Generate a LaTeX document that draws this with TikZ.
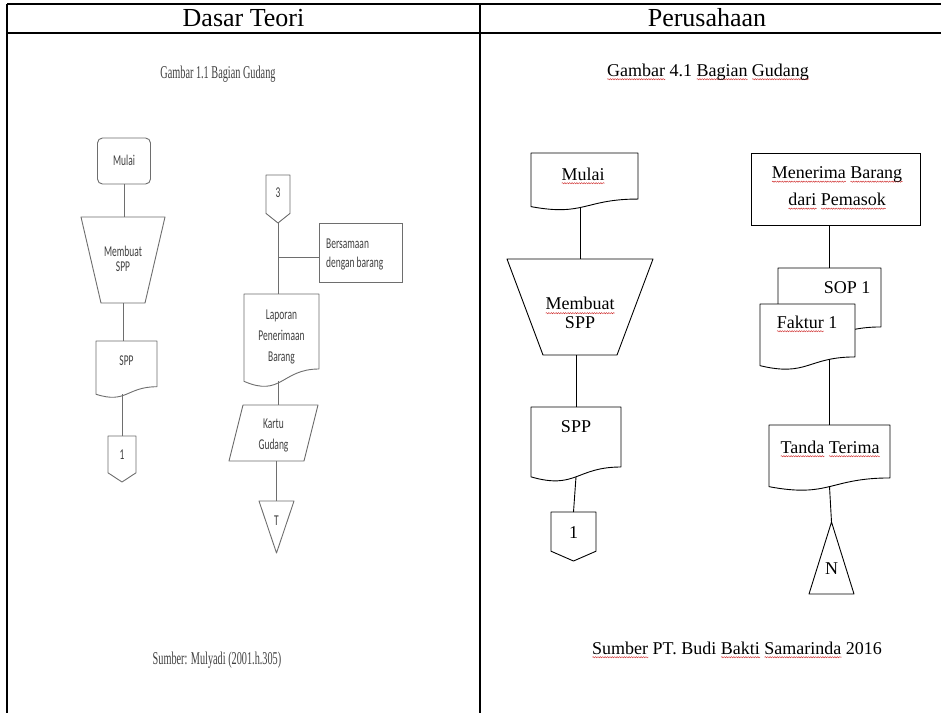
\documentclass[tikz,border=0pt]{standalone}
\usepackage{fontspec}
\setmainfont{Liberation Serif}
\newfontfamily\lsans[FakeStretch=0.63]{Carlito}
\newfontfamily\lserif[FakeStretch=0.57]{Liberation Serif}
\usetikzlibrary{calc,decorations.pathmorphing}
\definecolor{lgray}{HTML}{404040}
\definecolor{lline}{HTML}{6E6E6E}
\definecolor{sqred}{HTML}{D03030}
\newsavebox\sqbox
\newlength\sqlen
\newcommand\sq[1]{\sbox\sqbox{#1}\setlength\sqlen{\wd\sqbox}\makebox[0pt][l]{\tikz[baseline=0pt]\draw[sqred, line width=0.45pt, decorate, decoration={snake, amplitude=0.6pt, segment length=2.4pt}] (0pt,-3.2pt) -- (\sqlen,-3.2pt);}\usebox\sqbox}
% outlines drawn around named nodes
\newcommand\docout[2]{\draw[#2] (#1.north west) -- (#1.north east) -- ($(#1.north east)!0.802!(#1.south east)$) .. controls ($(#1.north)!0.802!(#1.south)$) and ($(#1.north)!1.1075!(#1.south)$) .. ($(#1.north west)!0.934!(#1.south west)$) -- cycle;
  \coordinate (#1-w) at ($(#1.north)!0.933!(#1.south)$);}
\newcommand\offout[2]{\draw[#2] (#1.north west) -- (#1.north east) -- ($(#1.north east)!0.8!(#1.south east)$) -- (#1.south) -- ($(#1.north west)!0.8!(#1.south west)$) -- cycle;}
\newcommand\trapout[3]{\draw[#2] (#1.north west) -- (#1.north east) -- ($(#1.south east)+(-#3,0)$) -- ($(#1.south west)+(#3,0)$) -- cycle;}
\newcommand\parout[3]{\draw[#2] ($(#1.north west)+(#3,0)$) -- (#1.north east) -- ($(#1.south east)+(-#3,0)$) -- (#1.south west) -- cycle;}
\newcommand\tridown[2]{\draw[#2] (#1.north west) -- (#1.north east) -- (#1.south) -- cycle;}
\newcommand\triupout[2]{\draw[#2] (#1.north) -- (#1.south east) -- (#1.south west) -- cycle;}
\tikzset{
  shp/.style={inner sep=0pt, outer sep=0pt},
  lo/.style={draw=lline, line width=0.9pt, line join=round},
  ro/.style={draw=black, line width=0.9pt, line join=round},
  lt/.style={font=\lsans\fontsize{15}{15}\selectfont, text=lgray, align=center, inner sep=0pt},
  rt/.style={font=\fontsize{18}{20}\selectfont, align=center, inner sep=0pt},
  lser/.style={font=\lserif\fontsize{18}{18}\selectfont, text=lgray, inner sep=0pt},
  ht/.style={font=\fontsize{26}{26}\selectfont, inner sep=0pt},
  tline/.style={line width=1.4pt},
  lc/.style={draw=lline, line width=0.9pt},
  rc/.style={draw=black, line width=0.9pt},
}
\begin{document}
\begin{tikzpicture}[x=1pt,y=-1pt]
\useasboundingbox (0,0) rectangle (941,713);
\fill[white] (0,0) rectangle (941,713);
% table
\draw[tline] (7,4) -- (941,4) (7,33) -- (941,33) (7,4) -- (7,713) (480,4) -- (480,713);
\node[ht] (h1) at (243.5,18) {Dasar Teori};
\node[ht] (h2) at (707,18) {Perusahaan};

% ---------------- left panel
\node[lser, anchor=base] (ltitle) at (218,78) {Gambar 1.1 Bagian Gudang};
\node[lser, anchor=base] (lcap) at (217,664) {Sumber: Mulyadi (2001.h.305)};

\node[draw=lline, line width=0.9pt, rounded corners=5pt, minimum width=53pt, minimum height=46pt, inner sep=0pt] (lmulai) at (124,161) {};
\node[lt, anchor=base] (lmulai-t) at (124,165) {Mulai};
\node[shp, minimum width=84pt, minimum height=86pt] (ltrap) at (123,260) {};
\trapout{ltrap}{lo}{20}
\node[lt] (ltrap-t) at (123,259) {Membuat\\SPP};
\node[shp, minimum width=61pt, minimum height=57pt] (lspp) at (126.5,369.5) {};
\docout{lspp}{lo}
\node[lt, anchor=base] (lspp-t) at (126.5,365) {SPP};
\node[shp, minimum width=28pt, minimum height=46pt] (lone) at (122,459) {};
\offout{lone}{lo}
\node[lt, anchor=base] (lone-t) at (122,459) {1};
\draw[lc] (lmulai.south) -- (lmulai.south |- ltrap.north);
\draw[lc] (ltrap.south) -- (ltrap.south |- lspp.north);
\draw[lc] (lone.north) -- (lone.north |- lspp-w);

\node[shp, minimum width=24pt, minimum height=48pt] (lthree) at (278,199) {};
\offout{lthree}{lo}
\node[lt, anchor=base] (lthree-t) at (278,197) {3};
\node[draw=lline, line width=0.9pt, minimum width=83pt, minimum height=59pt, inner sep=0pt] (lbers) at (360.5,252.5) {};
\node[lt, font=\lsans\fontsize{15}{19}\selectfont, align=left, anchor=west] (lbers-t) at (326,254.5) {Bersamaan\\dengan barang};
\node[shp, minimum width=75pt, minimum height=93.5pt] (llap) at (281.5,340.75) {};
\docout{llap}{lo}
\node[lt, font=\lsans\fontsize{15}{21}\selectfont] (llap-t) at (281.5,336.5) {Laporan\\Penerimaan\\Barang};
\node[shp, minimum width=89pt, minimum height=56pt] (lkartu) at (273.5,433) {};
\parout{lkartu}{lo}{14}
\node[lt, font=\lsans\fontsize{15}{21}\selectfont] (lkartu-t) at (273.5,435.4) {Kartu\\Gudang};
\node[shp, minimum width=35pt, minimum height=52pt] (lT) at (276.5,527) {};
\tridown{lT}{lo}
\node[lt, anchor=base] (lT-t) at (276.5,525) {T};
\draw[lc] (lthree.south) -- (lthree.south |- llap.north);
\coordinate (lbj) at ($(lbers.north west)!0.59!(lbers.south west)$);
\draw[lc] (lbj) -- (lbj -| lthree.south);
\draw[lc] (llap-w -| lthree.south) -- (lthree.south |- lkartu.north);
\draw[lc] (lT.north) -- (lT.north |- lkartu.south);

% ---------------- right panel
\node[rt, anchor=base] (rtitle) at (708,76) {\sq{Gambar} 4.1 \sq{Bagian} \sq{Gudang}};
\node[rt, anchor=base] (rcap) at (737,654) {\sq{Sumber} PT. Budi \sq{Bakti} \sq{Samarinda} 2016};

\node[shp, minimum width=107pt, minimum height=57.4pt] (rmulai) at (584.5,181.7) {};
\docout{rmulai}{ro}
\node[rt, anchor=base] (rmulai-t) at (583,180) {\sq{Mulai}};
\node[shp, minimum width=146pt, minimum height=96pt] (rtrap) at (580,307) {};
\trapout{rtrap}{ro}{36}
\node[rt, font=\fontsize{18}{19}\selectfont] (rtrap-t) at (580,313.3) {\sq{Membuat}\\SPP};
\node[shp, minimum width=90pt, minimum height=74.8pt] (rspp) at (576,444.4) {};
\docout{rspp}{ro}
\node[rt, anchor=base] (rspp-t) at (576,432) {SPP};
\node[shp, minimum width=45pt, minimum height=49pt] (rone) at (573.5,536.5) {};
\offout{rone}{ro}
\node[rt, anchor=base] (rone-t) at (573.5,538) {1};
\draw[rc] (rtrap.north) -- (rtrap.north |- rmulai-w);
\draw[rc] (rspp.north) -- (rspp.north |- rtrap.south);
\draw[rc] (rspp-w) -- (rone.north);

\node[draw, line width=0.9pt, minimum width=169pt, minimum height=72pt, inner sep=0pt] (rmen) at (835.5,189) {};
\node[rt, font=\fontsize{18}{27}\selectfont] (rmen-t) at (837,188) {\sq{Menerima} \sq{Barang}\\\sq{dari} \sq{Pemasok}};
\node[shp, minimum width=103pt, minimum height=73.5pt] (rsop) at (829.5,304.75) {};
\docout{rsop}{ro, fill=white}
\node[rt, anchor=base] (rsop-t) at (847,293) {SOP 1};
\node[shp, minimum width=95pt, minimum height=66pt] (rfak) at (807.5,337) {};
\docout{rfak}{ro, fill=white}
\node[rt, anchor=base] (rfak-t) at (807,328) {\sq{Faktur} 1};
\node[shp, minimum width=121pt, minimum height=66pt] (rtanda) at (829.5,458) {};
\docout{rtanda}{ro}
\node[rt, anchor=base] (rtanda-t) at (830,453) {\sq{Tanda} \sq{Terima}};
\node[shp, minimum width=45pt, minimum height=72pt] (rN) at (831.5,558) {};
\triupout{rN}{ro}
\node[rt, anchor=base] (rN-t) at (831.5,574) {N};
\draw[rc] (rsop.north) -- (rsop.north |- rmen.south);
\coordinate (fk) at ($(rfak.north)!0.84!(rfak.south)$);
\draw[rc] (rtanda.north) -- (rtanda.north |- fk);
\draw[rc] (rtanda-w) -- (rN.north);
\end{tikzpicture}
\end{document}
